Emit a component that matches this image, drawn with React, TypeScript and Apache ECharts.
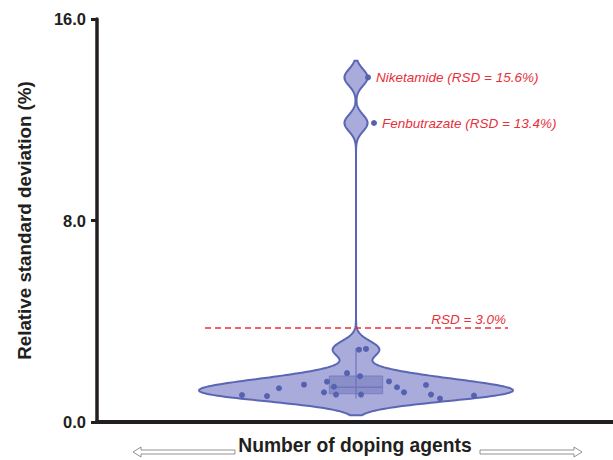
import React, { useEffect, useRef } from "react";
import * as echarts from "echarts";

// y-axis tick values
const yTicks = [0, 8, 16];
// horizontal jitter of each observation (arbitrary units, violin centred at 0)
const jitterX = [-1.14, -0.89, -0.77, -0.52, -0.29, -0.32, -0.22, -0.2, -0.09, 0.04, 0.05, 0.03, 0.1, 0.33, 0.41, 0.48, 0.7, 0.75, 0.84, 1.18];
// RSD values (as plotted on the axis)
const rsdValues = [1.07, 1.03, 1.34, 1.48, 1.6, 1.18, 1.4, 1.09, 1.94, 1.82, 1.09, 2.87, 2.9, 1.61, 1.38, 1.18, 1.47, 1.09, 0.93, 1.05];
// annotated outliers
const outlierNames = ["Niketamide (RSD = 15.6%)", "Fenbutrazate (RSD = 13.4%)"];
const outlierX = [0.12, 0.18];
const outlierRsd = [13.68, 11.87];
// box plot: whisker low, Q1, median, Q3, whisker high
const boxStats = [0.93, 1.12, 1.38, 1.83, 2.94];
// threshold
const thresholdValue = 3.73;
const thresholdLabel = "RSD = 3.0%";
const thresholdSpan = [-1.51, 1.52];

const FONT = "'Liberation Sans', Arial, Helvetica, sans-serif";
const RED = "#e8303a";

function buildViolin(values: number[], bw: number, cut: number, halfWidth: number) {
  const lo = Math.min(...values) - cut * bw;
  const hi = Math.max(...values) + cut * bw;
  const n = 600;
  const ys: number[] = [];
  const ds: number[] = [];
  for (let i = 0; i <= n; i++) {
    const y = lo + ((hi - lo) * i) / n;
    let d = 0;
    for (const v of values) {
      const z = (y - v) / bw;
      d += Math.exp(-0.5 * z * z);
    }
    ys.push(y);
    ds.push(d);
  }
  const m = Math.max(...ds);
  return ys.map((y, i) => [y, (ds[i] / m) * halfWidth]);
}

export default function App() {
  const ref = useRef<HTMLDivElement>(null);
  useEffect(() => {
    if (!ref.current) return;
    const chart = echarts.init(ref.current, undefined, { renderer: "svg" });
    const allValues = rsdValues.concat(outlierRsd);
    const profile = buildViolin(allValues, 0.33, 2, 1.57);

    const option: any = {
      animation: false,
      backgroundColor: "#ffffff",
      grid: { left: 97, right: 0, top: 19, bottom: 35, containLabel: false },
      xAxis: {
        type: "value",
        min: -2.59,
        max: 2.57,
        axisLine: { show: true, onZero: false, lineStyle: { color: "#231f20", width: 4 } },
        axisTick: { show: false },
        axisLabel: { show: false },
        splitLine: { show: false },
        name: "Number of doping agents",
        nameLocation: "middle",
        nameGap: 14,
        nameTextStyle: { fontFamily: FONT, fontWeight: "bold", fontSize: 19.3, color: "#231f20" },
      },
      yAxis: {
        type: "value",
        min: yTicks[0],
        max: yTicks[yTicks.length - 1],
        interval: yTicks[1] - yTicks[0],
        axisLine: { show: true, onZero: false, lineStyle: { color: "#231f20", width: 3.5 } },
        axisTick: { show: true, length: 6, lineStyle: { color: "#231f20", width: 3 } },
        axisLabel: {
          formatter: (v: number) => v.toFixed(1),
          fontFamily: FONT,
          fontWeight: "bold",
          fontSize: 16.5,
          color: "#231f20",
          margin: 11,
        },
        splitLine: { show: false },
        name: "Relative standard deviation (%)",
        nameLocation: "middle",
        nameRotate: 90,
        nameGap: 63,
        nameTextStyle: { fontFamily: FONT, fontWeight: "bold", fontSize: 18.8, color: "#231f20" },
      },
      graphic: [
        {
          type: "polygon",
          shape: {
            points: [
              [133, 452], [141, 447], [141, 450], [235, 450], [235, 454], [141, 454], [141, 457],
            ],
          },
          style: { fill: "#ffffff", stroke: "#777", lineWidth: 0.8 },
        },
        {
          type: "polygon",
          shape: {
            points: [
              [582, 452], [574, 447], [574, 450], [480, 450], [480, 454], [574, 454], [574, 457],
            ],
          },
          style: { fill: "#ffffff", stroke: "#777", lineWidth: 0.8 },
        },
      ],
      series: [
        {
          type: "custom",
          name: "violin",
          coordinateSystem: "cartesian2d",
          data: [[0, 0]],
          z: 1,
          renderItem: (_p: any, api: any) => {
            const right = profile.map(([y, w]) => api.coord([w, y]));
            const left = profile
              .slice()
              .reverse()
              .map(([y, w]) => api.coord([-w, y]));
            return {
              type: "polygon",
              shape: { points: right.concat(left) },
              style: { fill: "#a9acdb", stroke: "#5a66b4", lineWidth: 2 },
            };
          },
        },
        {
          type: "custom",
          name: "box",
          coordinateSystem: "cartesian2d",
          data: [[0, 0]],
          z: 2,
          renderItem: (_p: any, api: any) => {
            const hw = 0.267;
            const wTop = api.coord([0, boxStats[4]]);
            const wBot = api.coord([0, boxStats[0]]);
            const q1l = api.coord([-hw, boxStats[1]]);
            const q3r = api.coord([hw, boxStats[3]]);
            const ml = api.coord([-hw, boxStats[2]]);
            const mr = api.coord([hw, boxStats[2]]);
            return {
              type: "group",
              children: [
                {
                  type: "line",
                  shape: { x1: wTop[0], y1: wTop[1], x2: wBot[0], y2: wBot[1] },
                  style: { stroke: "#7a80c0", lineWidth: 1.5 },
                },
                {
                  type: "rect",
                  shape: { x: q1l[0], y: q3r[1], width: q3r[0] - q1l[0], height: q1l[1] - q3r[1] },
                  style: { fill: "rgba(100,108,182,0.45)", stroke: "rgba(100,108,182,0.6)", lineWidth: 1 },
                },
                {
                  type: "line",
                  shape: { x1: ml[0], y1: ml[1], x2: mr[0], y2: mr[1] },
                  style: { stroke: "#7177ba", lineWidth: 1.5 },
                },
              ],
            };
          },
        },
        {
          type: "scatter",
          name: "agents",
          z: 3,
          symbolSize: 6,
          itemStyle: { color: "#5662b0", opacity: 1 },
          data: jitterX.map((x, i) => [x, rsdValues[i]]),
          markLine: {
            silent: true,
            symbol: "none",
            lineStyle: { color: RED, type: [6, 4], width: 1.5 },
            label: {
              show: true,
              position: "insideEndTop",
              formatter: thresholdLabel,
              color: RED,
              fontStyle: "italic",
              fontFamily: FONT,
              fontSize: 13.5,
              distance: 2,
            },
            data: [
              [
                { coord: [thresholdSpan[0], thresholdValue] },
                { coord: [thresholdSpan[1], thresholdValue] },
              ],
            ],
          },
        },
        {
          type: "scatter",
          name: "outliers",
          z: 3,
          symbolSize: 6,
          itemStyle: { color: "#5662b0", opacity: 1 },
          label: {
            show: true,
            position: "right",
            distance: 5,
            formatter: (p: any) => p.name,
            color: RED,
            fontStyle: "italic",
            fontFamily: FONT,
            fontSize: 13.5,
          },
          data: outlierNames.map((n, i) => ({ name: n, value: [outlierX[i], outlierRsd[i]] })),
        },
      ],
    };
    chart.setOption(option);
    return () => chart.dispose();
  }, []);
  return (
    <div
      ref={ref}
      style={{ position: "fixed", left: 0, top: 0, width: 613, height: 460, background: "#fff" }}
    />
  );
}
